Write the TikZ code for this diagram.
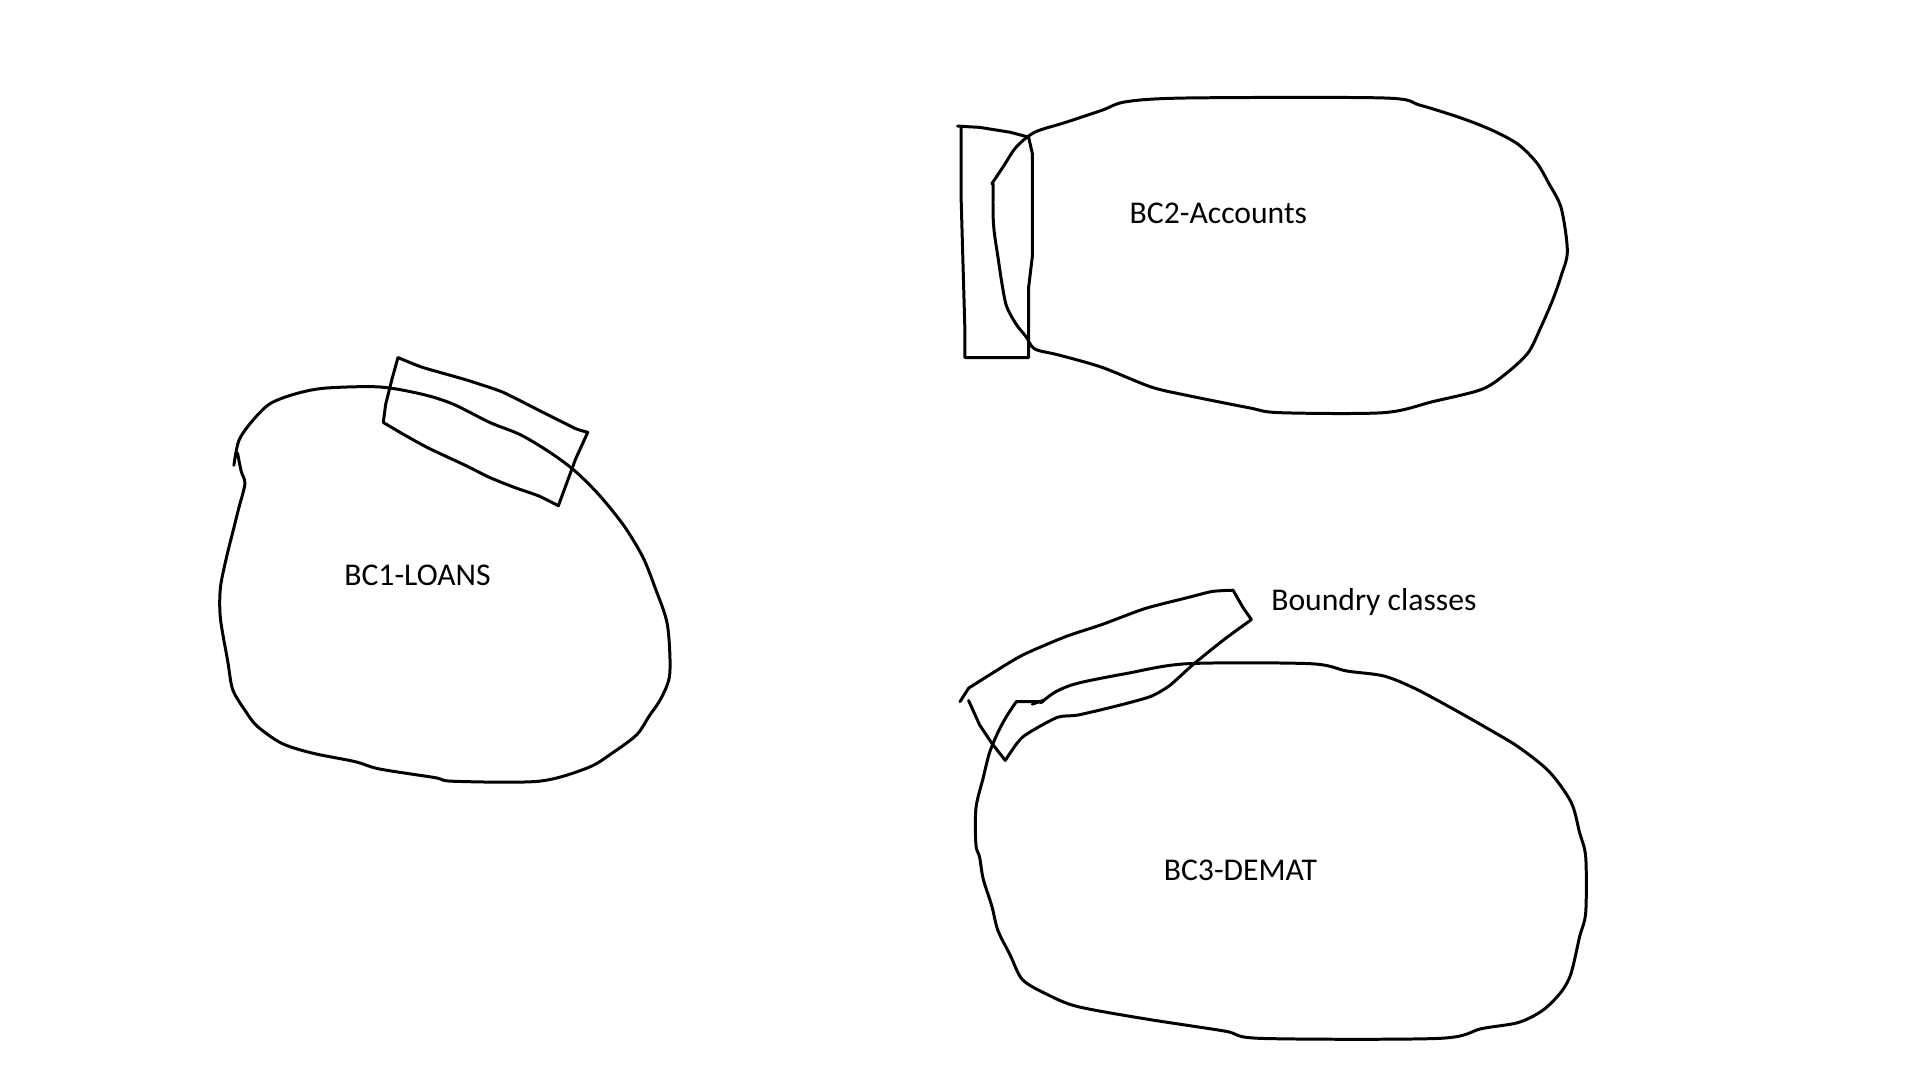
\documentclass[tikz,border=0pt]{standalone}
\usepackage{fontspec}
\setmainfont{Carlito}
\begin{document}
\begin{tikzpicture}[x=0.012245cm,y=-0.012245cm,
  ink/.style={line width=0.85pt,line join=round,line cap=round},
  lbl/.style={font=\fontsize{9}{11}\selectfont,inner sep=0pt}]
\useasboundingbox (0,0) rectangle (1568,882);
% BC1 blob
\draw[ink] plot[smooth,tension=0.5] coordinates {(191,380) (195,360) (205,345) (220,330) (240,322) (265,317) (310,316) (345,322) (370,330) (400,345) (425,355) (450,370) (470,385) (490,405) (510,430) (525,455) (535,480) (545,510) (547,550) (540,570) (530,585) (520,600) (500,615) (480,627) (440,638) (370,638) (355,635) (310,628) (290,622) (255,615) (230,607) (210,593) (200,580) (190,563) (186,540) (180,505) (180,480) (185,455) (190,435) (195,415) (200,395) (197,385) (194,370)};
% BC1 rectangle
\draw[ink] (325,292) -- plot[smooth,tension=0.3] coordinates {(325,292) (345,300) (380,310) (410,320) (440,335) (470,350) (480,353)}
  -- (470,375) -- (456,413)
  -- plot[smooth,tension=0.3] coordinates {(456,413) (440,405) (420,398) (400,390) (380,380) (350,366) (330,355) (313,345)}
  -- (315,330) -- (320,310) -- (325,292);
% BC2 blob
\draw[ink] plot[smooth,tension=0.5] coordinates {(810,150) (820,135) (830,120) (845,108) (870,100) (900,90) (920,83) (970,80) (1130,80) (1160,86) (1195,97) (1220,107) (1240,118) (1255,133) (1265,150) (1275,170) (1280,205) (1275,225) (1268,245) (1258,268) (1248,288) (1230,305) (1210,318) (1170,328) (1130,337) (1045,337) (1020,333) (970,323) (940,316) (900,300) (865,290) (845,285) (838,275) (830,265) (822,250) (818,230) (815,210) (812,190) (811,175) (811,150)};
% BC2 rectangle
\draw[ink] (782,103) -- (800,104) -- (825,108) -- (840,112) -- (843,125) -- (843,210) -- (840,235) -- (840,292) -- (788,292) -- (788,270) -- (785,165) -- (785,103);
% BC3 blob
\draw[ink] plot[smooth,tension=0.5] coordinates {(850,574) (862,565) (880,558) (920,550) (970,542) (1070,542) (1100,548) (1130,552) (1155,562) (1185,578) (1215,595) (1240,610) (1265,630) (1283,655) (1290,680) (1295,700) (1295,745) (1290,765) (1283,795) (1275,810) (1260,825) (1240,835) (1210,840) (1175,848) (1030,848) (1000,842) (935,832) (880,822) (855,812) (835,800) (825,780) (815,760) (810,740) (803,718) (800,700) (797,690) (797,660) (803,635) (808,615) (815,598) (822,585) (830,573)} -- (852,573);
\draw[ink] (843,575) -- (852,572);
% BC3 boundary class
\draw[ink] (784,573) -- (791,562)
  -- plot[smooth,tension=0.4] coordinates {(791,562) (810,550) (835,535) (870,520) (900,510) (935,497) (970,488) (990,483) (1007,482)}
  -- (1015,496) -- (1022,506)
  -- plot[smooth,tension=0.4] coordinates {(1022,506) (1000,522) (974,543) (955,560) (939,569) (910,577) (880,584) (863,586) (835,602) (821,621)}
  -- (810,607) -- (800,592) -- (791,572);
% labels
\node[lbl] (bc1) at (341,470) {BC1-LOANS};
\node[lbl] (bc2) at (995,174) {BC2-Accounts};
\node[lbl] (bc3) at (1013,711) {BC3-DEMAT};
\node[lbl] (bnd) at (1122,492) {Boundry classes};
\end{tikzpicture}
\end{document}
